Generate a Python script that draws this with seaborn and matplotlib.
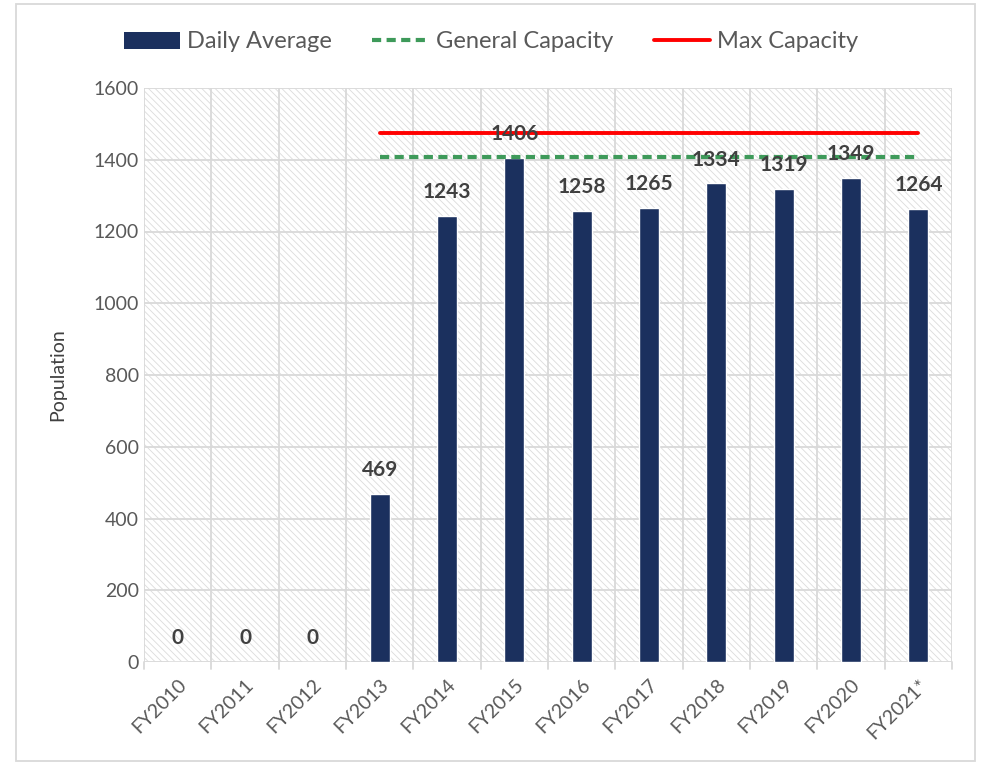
import matplotlib
matplotlib.use("Agg")
import matplotlib.pyplot as plt
import seaborn as sns
import numpy as np
import pandas as pd
from matplotlib.patches import Patch, Rectangle
from matplotlib.lines import Line2D

years = ["FY2010", "FY2011", "FY2012", "FY2013", "FY2014", "FY2015",
         "FY2016", "FY2017", "FY2018", "FY2019", "FY2020", "FY2021*"]
daily_avg = [0, 0, 0, 469, 1243, 1406, 1258, 1265, 1334, 1319, 1349, 1264]
general_cap = [np.nan, np.nan, np.nan, 1408, 1408, 1408, 1408, 1408, 1408, 1408, 1408, 1408]
max_cap = [np.nan, np.nan, np.nan, 1474, 1474, 1474, 1474, 1474, 1474, 1474, 1474, 1474]

df = pd.DataFrame({"year": years, "avg": daily_avg,
                   "gen": general_cap, "max": max_cap, "pos": range(len(years))})

sns.set_style("white")
plt.rcParams["font.family"] = ["Lato", "DejaVu Sans"]
plt.rcParams["hatch.color"] = "#dcdcdc"
plt.rcParams["hatch.linewidth"] = 0.6

bar_col = "#1b305e"
grid_col = "#d9d9d9"
txt_col = "#595959"

fig = plt.figure(figsize=(9.82, 7.63), dpi=100)
ax = fig.add_axes([144 / 982, 1 - 662 / 763, (952 - 144) / 982, (662 - 88) / 763])

# hatched plot background
ax.add_patch(Rectangle((0, 0), 1, 1, transform=ax.transAxes, facecolor="white",
                       edgecolor="#dcdcdc", linewidth=0, hatch="\\\\\\\\\\",
                       zorder=0))

sns.barplot(data=df, x="year", y="avg", color=bar_col, width=0.3,
            saturation=1, ax=ax, zorder=3)
sns.lineplot(data=df, x="pos", y="gen", color="#3e9a5a", lw=3,
             linestyle=(0, (2.2, 1.3)), ax=ax, zorder=4)
sns.lineplot(data=df, x="pos", y="max", color="#ff0000", lw=2.8, ax=ax, zorder=4)

ax.set_xlim(-0.5, len(years) - 0.5)
ax.set_ylim(0, 1600)
ax.set_yticks(range(0, 1601, 200))

# gridlines
for y in range(0, 1601, 200):
    ax.axhline(y, color=grid_col, lw=1.3, zorder=1)
for b in np.arange(-0.5, len(years), 1):
    ax.axvline(b, color=grid_col, lw=1.3, zorder=1)
    ax.plot([b, b], [0, -0.012], transform=ax.get_xaxis_transform(),
            color=grid_col, lw=1.3, clip_on=False)

for s in ax.spines.values():
    s.set_visible(False)

ax.tick_params(axis="both", length=0, labelsize=14, colors=txt_col)
ax.tick_params(axis="x", pad=10)
for lab in ax.get_xticklabels():
    lab.set_rotation(45)
    lab.set_ha("right")
    lab.set_rotation_mode("anchor")

ax.set_xlabel("")
ax.set_ylabel("Population", fontsize=14, color="#404040", labelpad=20)

for i, v in enumerate(daily_avg):
    ax.annotate(str(v), (i, v), xytext=(0, 10), textcoords="offset points",
                ha="center", va="bottom", fontsize=15, fontweight="bold",
                color="#404040", zorder=5)

handles = [Patch(facecolor=bar_col, edgecolor="none"),
           Line2D([], [], color="#3e9a5a", lw=3, linestyle=(0, (2.2, 1.3))),
           Line2D([], [], color="#ff0000", lw=2.8)]
fig.legend(handles, ["Daily Average", "General Capacity", "Max Capacity"],
           loc="center", bbox_to_anchor=(0.5, 1 - 42 / 763), ncol=3, frameon=False,
           fontsize=17, labelcolor=txt_col, handlelength=2.4, columnspacing=1.7,
           handletextpad=0.3)

# chart border
fig.add_artist(Rectangle((16 / 982, 2 / 763), (975 - 16) / 982, 1 - 6 / 763,
                         transform=fig.transFigure, fill=False,
                         edgecolor=grid_col, lw=1.3))

fig.savefig("out.png", dpi=100)
